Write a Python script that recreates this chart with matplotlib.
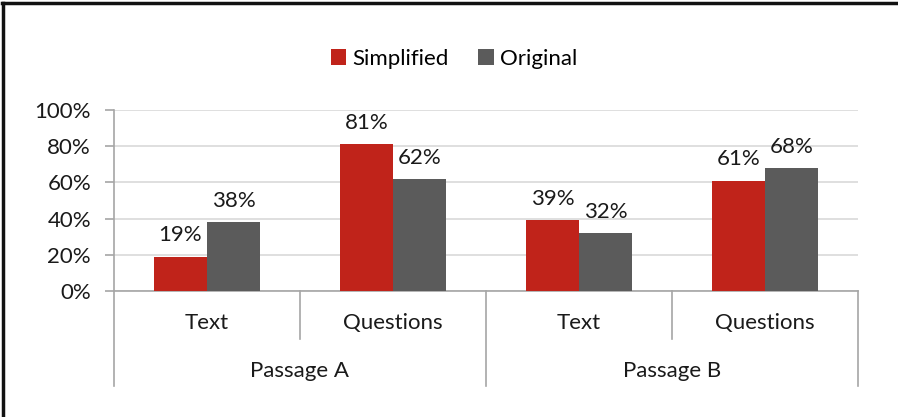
import matplotlib
matplotlib.use("Agg")
import matplotlib.pyplot as plt
from matplotlib.lines import Line2D
from matplotlib.transforms import blended_transform_factory
import numpy as np

plt.rcParams['font.family'] = ['Lato', 'DejaVu Sans']

groups = ["Passage A", "Passage B"]
categories = ["Text", "Questions", "Text", "Questions"]
simplified = [19, 81, 39, 61]
original = [38, 62, 32, 68]
series_names = ["Simplified", "Original"]
colors = ["#C0231A", "#5B5B5B"]
yticks = [0, 20, 40, 60, 80, 100]

FS = 16
TXT = "#1a1a1a"
W, H = 898, 417
fig = plt.figure(figsize=(W / 100, H / 100), dpi=100)
ax = fig.add_axes([114 / W, 126 / H, (858 - 114) / W, 181 / H])

x = np.arange(len(categories))
bw = 0.285
b1 = ax.bar(x - bw / 2, simplified, bw, color=colors[0], label=series_names[0], zorder=3)
b2 = ax.bar(x + bw / 2, original, bw, color=colors[1], label=series_names[1], zorder=3)

for bars, vals in ((b1, simplified), (b2, original)):
    for rect, v in zip(bars, vals):
        ax.annotate(f"{v}%", (rect.get_x() + rect.get_width() / 2, v),
                    xytext=(0, 8), textcoords="offset points",
                    ha="center", va="bottom", fontsize=FS, color=TXT)

ax.set_xlim(-0.5, len(categories) - 0.5)
ax.set_ylim(0, 100)
ax.set_yticks(yticks)
ax.set_yticklabels([f"{t}%" for t in yticks], fontsize=FS, color=TXT)
ax.yaxis.grid(True, color="#D9D9D9", linewidth=1.2, zorder=0)
ax.set_axisbelow(True)
ax.tick_params(axis="y", length=6.5, color="#A6A6A6", width=1.2, pad=10)
ax.set_xticks([])
for s in ("top", "right"):
    ax.spines[s].set_visible(False)
for s in ("left", "bottom"):
    ax.spines[s].set_color("#A6A6A6")
    ax.spines[s].set_linewidth(1.2)

trans = blended_transform_factory(ax.transData, ax.transAxes)
ax_h_px = 181.0
def yax(px):
    return -px / ax_h_px

for xi, c in zip(x, categories):
    ax.text(xi, yax(32), c, transform=trans, ha="center", va="center", fontsize=FS, color=TXT)
for gi, g in enumerate(groups):
    ax.text(gi * 2 + 0.5, yax(80), g, transform=trans, ha="center", va="center", fontsize=FS, color=TXT)

for xi in np.arange(-0.5, len(categories), 1.0):
    is_group = int(round(xi + 0.5)) % 2 == 0
    bottom = yax(95) if is_group else yax(48)
    ax.plot([xi, xi], [0, bottom], transform=trans, color="#A6A6A6", lw=1.2, clip_on=False)

ax.legend(loc="center", bbox_to_anchor=(454 / W, 1 - 59 / H), bbox_transform=fig.transFigure,
          ncol=2, frameon=False, fontsize=FS, handlelength=0.7, handleheight=0.7,
          handletextpad=0.3, columnspacing=1.3)

# frame border: left and top edges only (as in reference)
fig.lines.append(Line2D([3 / W, 3 / W], [0, 1 - 3 / H], transform=fig.transFigure, color="#111111", lw=2.5))
fig.lines.append(Line2D([2 / W, 1], [1 - 3 / H, 1 - 3 / H], transform=fig.transFigure, color="#111111", lw=2.5))

fig.savefig("out.png", dpi=100)
